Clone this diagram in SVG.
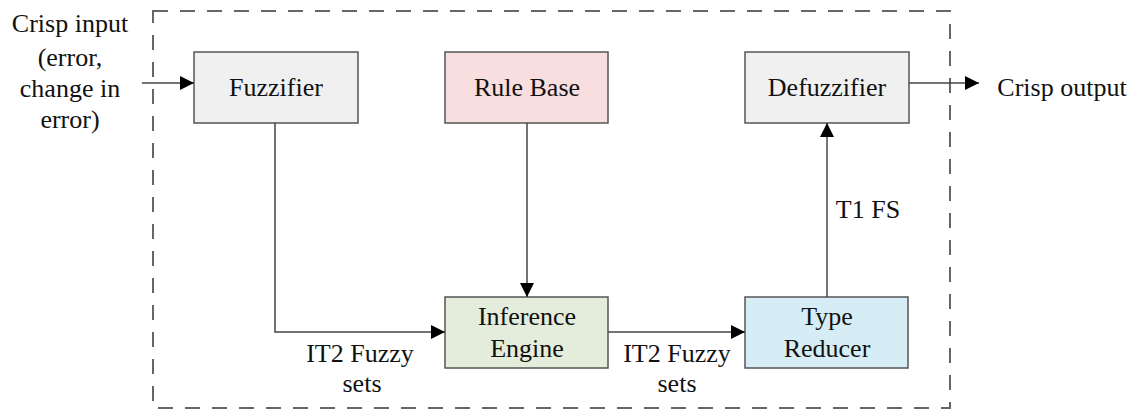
<svg xmlns="http://www.w3.org/2000/svg" width="1136" height="410" viewBox="0 0 1136 410">
<style>
text{font-size:26px;fill:#111;text-anchor:middle}
.box{stroke:#555;stroke-width:1.5}
.c{fill:none;stroke:#444;stroke-width:1.5}
</style>
<defs>
<marker id="ah" viewBox="0 0 10 10" refX="10" refY="5" markerWidth="14" markerHeight="14" markerUnits="userSpaceOnUse" orient="auto"><path d="M0,0 L10,5 L0,10 z" fill="#000"/></marker>
</defs>
<g font-family="Liberation Serif, Tinos, DejaVu Serif, serif">
<rect x="153" y="11" width="797" height="397" fill="none" stroke="#666" stroke-width="2" stroke-dasharray="15,12"/>
<g id="input-label">
<text x="70" y="32">Crisp input</text>
<text x="70" y="66">(error,</text>
<text x="70" y="97">change in</text>
<text x="70" y="128">error)</text>
</g>
<g id="fuzzifier"><rect class="box" x="194" y="52" width="164" height="71" fill="#f0f0f0"/><text x="276" y="96">Fuzzifier</text></g>
<g id="rule-base"><rect class="box" x="445" y="52" width="163" height="71" fill="#f8dede"/><text x="527" y="96">Rule Base</text></g>
<g id="defuzzifier"><rect class="box" x="745" y="52" width="164" height="71" fill="#f0f0f0"/><text x="827" y="96">Defuzzifier</text></g>
<g id="inference-engine"><rect class="box" x="445" y="297" width="163" height="71" fill="#e4ecdc"/><text x="527" y="325">Inference</text><text x="527" y="357">Engine</text></g>
<g id="type-reducer"><rect class="box" x="745" y="297" width="163" height="71" fill="#d6edf5"/><text x="827" y="325">Type</text><text x="827" y="357">Reducer</text></g>
<g id="output-label"><text x="1062" y="96">Crisp output</text></g>
<g id="connectors">
<line class="c" x1="142" y1="83" x2="194" y2="83" marker-end="url(#ah)"/>
<line class="c" x1="909" y1="83" x2="979" y2="83" marker-end="url(#ah)"/>
<polyline class="c" points="275,123 275,332 445,332" marker-end="url(#ah)"/>
<line class="c" x1="527" y1="123" x2="527" y2="297" marker-end="url(#ah)"/>
<line class="c" x1="608" y1="332" x2="745" y2="332" marker-end="url(#ah)"/>
<line class="c" x1="827" y1="297" x2="827" y2="123" marker-end="url(#ah)"/>
<text x="360" y="362">IT2 Fuzzy</text><text x="362" y="392">sets</text>
<text x="677" y="362">IT2 Fuzzy</text><text x="677" y="392">sets</text>
<text x="868" y="218">T1 FS</text>
</g>
</g>
</svg>
